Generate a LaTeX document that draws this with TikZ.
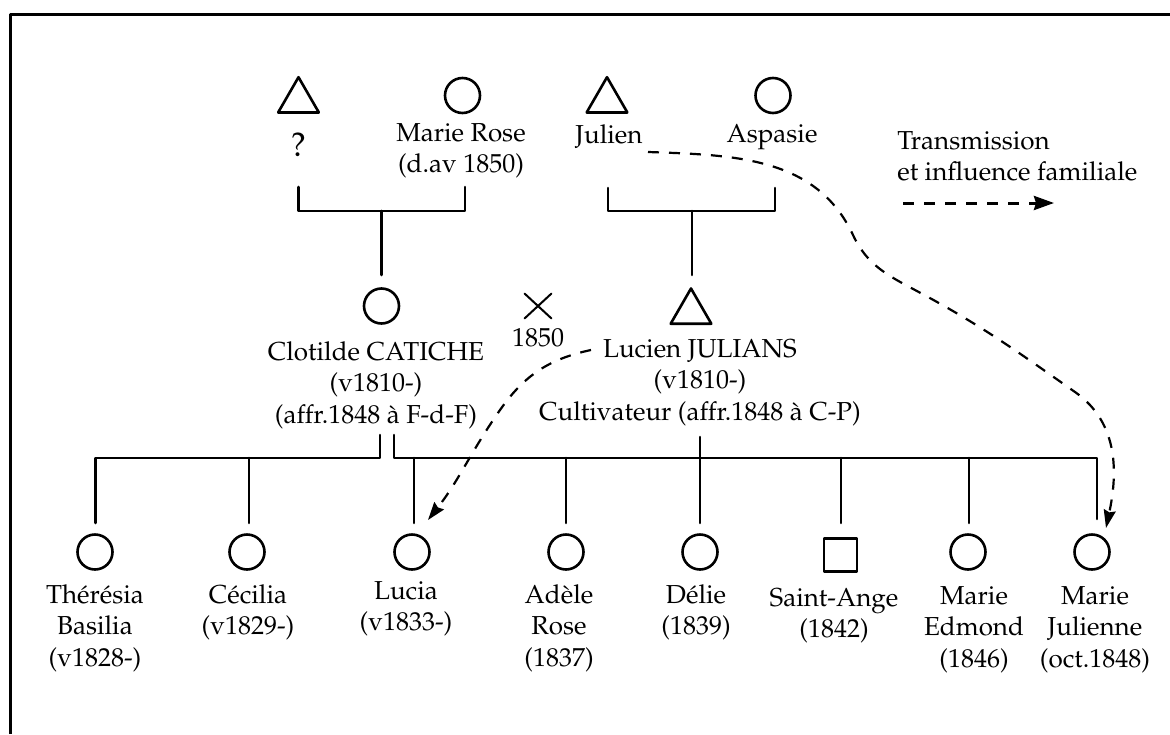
\documentclass[tikz,border=0pt]{standalone}
\usepackage[T1]{fontenc}
\usepackage{mathpazo}
\usetikzlibrary{shapes.geometric,shapes.misc,arrows.meta}

\begin{document}
\begin{tikzpicture}[x=1pt,y=-1pt,font=\fontsize{26}{31.5}\selectfont, line join=round, line cap=round, line width=2.6pt,
	>={Stealth[length=18pt,width=12pt,inset=2pt]},
	female/.style={draw,circle,inner sep=0pt,minimum size=35pt},
	male/.style={draw,regular polygon,regular polygon sides=3,inner sep=0pt,minimum size=47pt},
	son/.style={draw,rectangle,inner sep=0pt,minimum size=33pt},
	lbl/.style={inner sep=0pt,align=center,anchor=north},
	infl/.style={->,line cap=butt,dash pattern=on 11pt off 10pt,line width=2.2pt}]
		\useasboundingbox (0,0) rectangle (1170,734);
		\draw[line width=3pt,line cap=butt] (10.3,734) -- (10.3,14) -- (1170,14);
		% grands-parents
		\node[male] (inc) at (298.5,100.7) {};
		\node[female] (mrose) at (462.5,95.5) {};
		\node[male] (julien) at (607,100.7) {};
		\node[female] (aspasie) at (773,95.5) {};
		\path
		node[lbl,font=\fontsize{34}{36}\selectfont] (inc-l) at (298.5,132) {?}
		node[lbl] (mrose-l) at (461,122) {Marie Rose\\(d.av 1850)}
		node[lbl] (julien-l) at (609,123) {Julien}
		node[lbl] (aspasie-l) at (772,123) {Aspasie};
		% legende
		\node[inner sep=0pt,align=left,anchor=north west] (leg) at (896,130) {Transmission\\et influence familiale};
		\coordinate (leg0) at (903,203);
		\coordinate (leg1) at (1054,203);
		\draw[infl,line width=3pt,-{Stealth[length=20pt,width=14pt,inset=2pt]}] (leg0) -- (leg1);
		% parents
		\node[female] (clotilde) at (381.5,306) {};
		\node[male] (lucien) at (691,312) {};
		\node[draw,cross out,inner sep=0pt,minimum width=25pt,minimum height=23pt,line width=2pt] (mar) at (538,306) {};
		\path
		node[lbl] (clotilde-l) at (376,340) {Clotilde CATICHE\\(v1810-)\\(affr.1848 à F-d-F)}
		node[lbl] (mar-l) at (538,327) {1850}
		node[lbl] (lucien-l) at (700,338) {Lucien JULIANS\\(v1810-)\\Cultivateur (affr.1848 à C-P)};
		\coordinate (b1) at (298.5,187);
		\coordinate (b2) at (465,187);
		\coordinate (b3) at (608,188);
		\coordinate (b4) at (775,188);
		\draw (b1) -- ++(0,24) -| (b2);
		\draw (b3) -- ++(0,23) -| (b4);
		\draw (381.5,211) -- (381.5,275);
		\draw (692,211) -- (692,275);
		% enfants
		\foreach \n/\x/\s in {ther/95/female,ceci/247/female,lucia/412/female,adele/566/female,delie/700/female,mjul/1092/female,medm/968/female}{
			\node[\s] (\n) at (\x,552) {};
		}
		\node[son] (sange) at (840.5,555) {};
		\foreach \n/\x/\y/\t in {ther/95/583/{Thérésia\\Basilia\\(v1828-)},ceci/248/583/{Cécilia\\(v1829-)},lucia/406/580/{Lucia\\(v1833-)},adele/559/583/{Adèle\\Rose\\(1837)},delie/696/583/{Délie\\(1839)},sange/834/587/{Saint-Ange\\(1842)},medm/974/585/{Marie\\Edmond\\(1846)},mjul/1095/585/{Marie\\Julienne\\(oct.1848)}}{
			\node[lbl] (\n-l) at (\x,\y) {\t};
		}
		\draw (380,435) -- (380,458) -- (95.7,458) -- (95.7,523);
		\draw (394,435) -- (394,458) -- (1097,458) -- (1097,519);
		\draw (700,437) -- (700,523);
		\foreach \x in {249,414,566,841,969}{
			\draw (\x,458) -- (\x,523);
		}
		% influences
		\coordinate (j0) at (648,152);
		\coordinate (j1) at (1106,528);
		\coordinate (l0) at (591,350);
		\coordinate (l1) at (428,520);
		\draw[infl] (j0) to[out=-2,in=115] (853,235) to[out=-65,in=152] (915,290) to[out=-28,in=145] (1075,392) to[out=-35,in=78] (j1);
		\draw[infl] (l0) to[out=192,in=55] (500,410) to[out=-125,in=52] (l1);
	\end{tikzpicture}
\end{document}
